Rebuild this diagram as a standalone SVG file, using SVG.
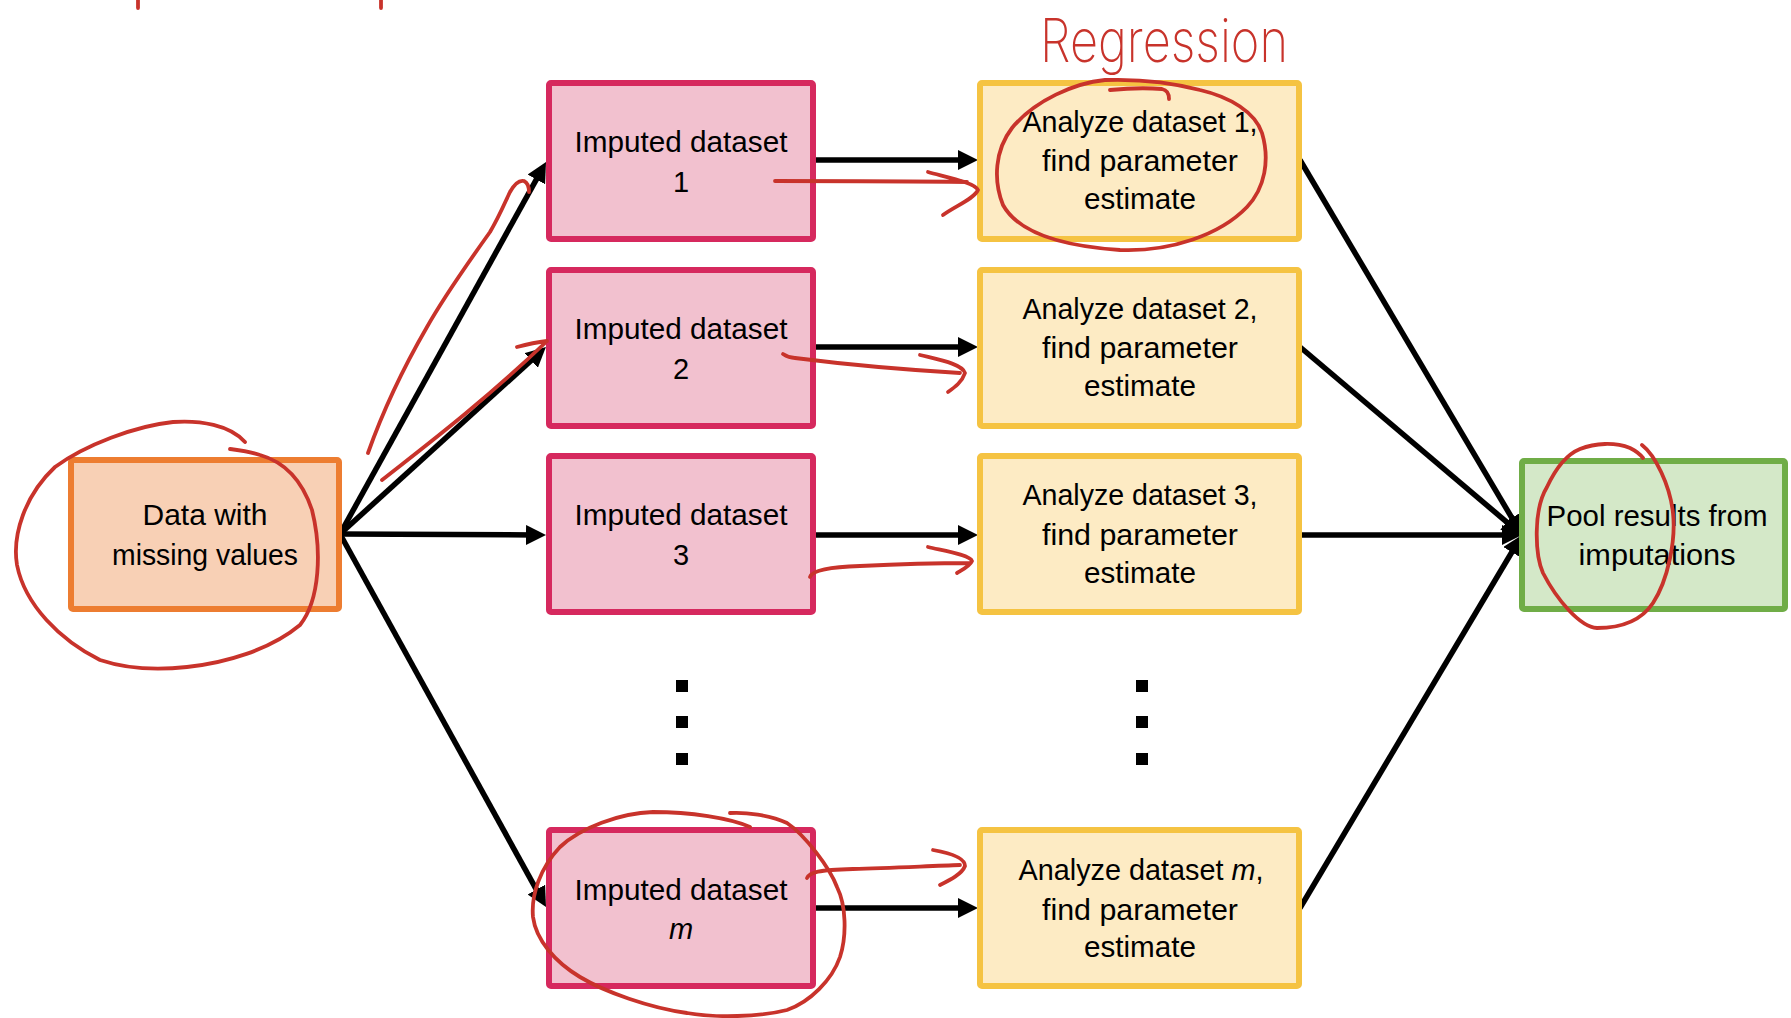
<svg xmlns="http://www.w3.org/2000/svg" width="1791" height="1018" viewBox="0 0 1791 1018">
  <style>
    .t { font-family: "Liberation Sans", Arial, sans-serif; font-size: 29px; fill: #000; text-anchor: middle; }
    .orange { fill: #F8D0B5; stroke: #ED7D31; stroke-width: 6; }
    .pink { fill: #F2C1CF; stroke: #D6295E; stroke-width: 6; }
    .yellow { fill: #FDEBC4; stroke: #F5C342; stroke-width: 6; }
    .green { fill: #D4E8C8; stroke: #70AD47; stroke-width: 6; }
    .conn { stroke: #000; stroke-width: 5.5; fill: none; marker-end: url(#ah); }
    .ink { stroke: #C8332B; stroke-width: 3.8; fill: none; stroke-linecap: round; stroke-linejoin: round; }
    .hand { font-family: Inter, "Liberation Sans", Arial, sans-serif; font-weight: 200; font-size: 60px; fill: #C8332B; text-anchor: middle; }
    .dot { fill: #000; }
  </style>
  <defs>
    <marker id="ah" markerUnits="userSpaceOnUse" viewBox="0 0 20 20" refX="9" refY="10" markerWidth="20" markerHeight="20" orient="auto">
      <path d="M0,0 L20,10 L0,20 z" fill="#000"/>
    </marker>
  </defs>
  <rect width="1791" height="1018" fill="#fff"/>

  <g id="connectors">
    <line class="conn" x1="340" y1="534" x2="540.7" y2="171.6"/>
    <line class="conn" x1="340" y1="534" x2="537.8" y2="354.4"/>
    <line class="conn" x1="340" y1="534" x2="535" y2="535"/>
    <line class="conn" x1="340" y1="534" x2="540.7" y2="897.4"/>
    <line class="conn" x1="816" y1="160" x2="967" y2="160"/>
    <line class="conn" x1="816" y1="347" x2="967" y2="347"/>
    <line class="conn" x1="816" y1="535" x2="967" y2="535"/>
    <line class="conn" x1="816" y1="908" x2="967" y2="908"/>
    <line class="conn" x1="1300" y1="160" x2="1516.4" y2="525.5"/>
    <line class="conn" x1="1300" y1="347" x2="1513.6" y2="527.9"/>
    <line class="conn" x1="1302" y1="535" x2="1511" y2="535"/>
    <line class="conn" x1="1300" y1="908" x2="1516.4" y2="544.5"/>
  </g>

  <g id="node-data">
    <rect class="orange" x="71" y="460" width="268" height="149" rx="2"/>
    <text class="t" x="205" y="525" textLength="125" lengthAdjust="spacingAndGlyphs">Data with</text>
    <text class="t" x="205" y="565" textLength="186" lengthAdjust="spacingAndGlyphs">missing values</text>
  </g>

  <g id="node-imp1">
    <rect class="pink" x="549" y="83" width="264" height="156" rx="2"/>
    <text class="t" x="681" y="152" textLength="213" lengthAdjust="spacingAndGlyphs">Imputed dataset</text>
    <text class="t" x="681" y="192">1</text>
  </g>
  <g id="node-imp2">
    <rect class="pink" x="549" y="270" width="264" height="156" rx="2"/>
    <text class="t" x="681" y="339" textLength="213" lengthAdjust="spacingAndGlyphs">Imputed dataset</text>
    <text class="t" x="681" y="379">2</text>
  </g>
  <g id="node-imp3">
    <rect class="pink" x="549" y="456" width="264" height="156" rx="2"/>
    <text class="t" x="681" y="525" textLength="213" lengthAdjust="spacingAndGlyphs">Imputed dataset</text>
    <text class="t" x="681" y="565">3</text>
  </g>
  <g id="node-impm">
    <rect class="pink" x="549" y="830" width="264" height="156" rx="2"/>
    <text class="t" x="681" y="900" textLength="213" lengthAdjust="spacingAndGlyphs">Imputed dataset</text>
    <text class="t" x="681" y="939" font-style="italic">m</text>
  </g>

  <g id="node-an1">
    <rect class="yellow" x="980" y="83" width="319" height="156" rx="2"/>
    <text class="t" x="1140" y="132" textLength="235" lengthAdjust="spacingAndGlyphs">Analyze dataset 1,</text>
    <text class="t" x="1140" y="171" textLength="196" lengthAdjust="spacingAndGlyphs">find parameter</text>
    <text class="t" x="1140" y="209" textLength="112" lengthAdjust="spacingAndGlyphs">estimate</text>
  </g>
  <g id="node-an2">
    <rect class="yellow" x="980" y="270" width="319" height="156" rx="2"/>
    <text class="t" x="1140" y="319" textLength="235" lengthAdjust="spacingAndGlyphs">Analyze dataset 2,</text>
    <text class="t" x="1140" y="358" textLength="196" lengthAdjust="spacingAndGlyphs">find parameter</text>
    <text class="t" x="1140" y="396" textLength="112" lengthAdjust="spacingAndGlyphs">estimate</text>
  </g>
  <g id="node-an3">
    <rect class="yellow" x="980" y="456" width="319" height="156" rx="2"/>
    <text class="t" x="1140" y="505" textLength="235" lengthAdjust="spacingAndGlyphs">Analyze dataset 3,</text>
    <text class="t" x="1140" y="545" textLength="196" lengthAdjust="spacingAndGlyphs">find parameter</text>
    <text class="t" x="1140" y="583" textLength="112" lengthAdjust="spacingAndGlyphs">estimate</text>
  </g>
  <g id="node-anm">
    <rect class="yellow" x="980" y="830" width="319" height="156" rx="2"/>
    <text class="t" x="1141" y="880" textLength="245" lengthAdjust="spacingAndGlyphs">Analyze dataset <tspan font-style="italic">m</tspan>,</text>
    <text class="t" x="1140" y="920" textLength="196" lengthAdjust="spacingAndGlyphs">find parameter</text>
    <text class="t" x="1140" y="957" textLength="112" lengthAdjust="spacingAndGlyphs">estimate</text>
  </g>

  <g id="node-pool">
    <rect class="green" x="1522" y="461" width="263" height="148" rx="2"/>
    <text class="t" x="1657" y="526" textLength="221" lengthAdjust="spacingAndGlyphs">Pool results from</text>
    <text class="t" x="1657" y="565" textLength="157" lengthAdjust="spacingAndGlyphs">imputations</text>
  </g>

  <g id="ellipsis">
    <rect class="dot" x="676" y="680" width="12" height="12"/>
    <rect class="dot" x="676" y="716" width="12" height="12"/>
    <rect class="dot" x="676" y="753" width="12" height="12"/>
    <rect class="dot" x="1136" y="680" width="12" height="12"/>
    <rect class="dot" x="1136" y="716" width="12" height="12"/>
    <rect class="dot" x="1136" y="753" width="12" height="12"/>
  </g>

  <g id="annotations">
    <line class="ink" x1="138" y1="0" x2="138" y2="8" stroke-width="7"/>
    <line class="ink" x1="381" y1="0" x2="381" y2="8" stroke-width="7"/>
    <text class="hand" x="1164" y="62" textLength="248" lengthAdjust="spacingAndGlyphs">Regression</text>
    <path class="ink" d="M245,442 C230,425 200,420 173,422 C135,426 85,445 55,467 C25,495 12,535 17,565 C25,605 60,640 100,660 C130,670 160,670 187,667 C225,663 270,650 300,625 C320,600 322,550 312,510 C302,480 285,462 260,455 C248,451 238,450 230,449"/>
    <path class="ink" d="M368,453 C385,405 405,365 427,327 C445,295 470,260 490,232 C500,215 506,200 510,192 C515,183 520,180 524,181 C528,183 529,188 529,192"/>
    <path class="ink" d="M382,480 C420,450 480,405 545,343 M517,347 C528,344 538,342 547,341"/>
    <path class="ink" d="M775,181 C830,181 900,181 967,182 M928,172 C950,178 975,183 978,190 C974,199 955,206 943,215"/>
    <path class="ink" d="M783,354 C786,356 790,358 795,358 C850,365 910,370 960,373 M920,355 C940,360 962,364 965,373 C962,382 955,387 948,392"/>
    <path class="ink" stroke-width="4.5" d="M810,577 C812,570 830,567 860,566 C900,564 940,563 970,563 M928,547 C945,551 970,555 972,561 C970,566 962,570 957,573"/>
    <path class="ink" d="M807,878 C810,872 818,870 853,869 C890,868 930,866 960,865 M933,850 C950,853 965,858 965,866 C962,874 950,880 940,885"/>
    <path class="ink" d="M1105,80 C1075,83 1035,100 1012,128 C995,150 993,180 1003,205 C1018,232 1060,246 1120,250 C1170,252 1220,235 1247,207 C1265,188 1270,160 1262,133 C1255,112 1230,97 1200,90 C1170,82 1135,79 1105,80 M1110,90 C1130,88 1150,88 1162,89 C1167,90 1169,94 1169,99"/>
    <path class="ink" d="M750,827 C730,818 690,812 653,812 C620,813 580,828 560,847 C540,868 531,895 533,917 C536,940 555,962 580,977 C605,992 650,1008 687,1013 C715,1018 760,1017 787,1010 C810,1002 832,980 840,957 C847,935 846,905 837,887 C830,868 805,835 787,823 C770,815 745,812 730,813"/>
    <path class="ink" d="M1642,445 C1655,455 1670,485 1673,513 C1676,540 1668,580 1653,603 C1643,618 1625,628 1597,628 C1580,627 1557,600 1543,573 C1535,555 1533,510 1547,487 C1555,470 1565,455 1580,449 C1595,443 1615,442 1630,448 C1636,451 1640,454 1643,458"/>
  </g>
</svg>
